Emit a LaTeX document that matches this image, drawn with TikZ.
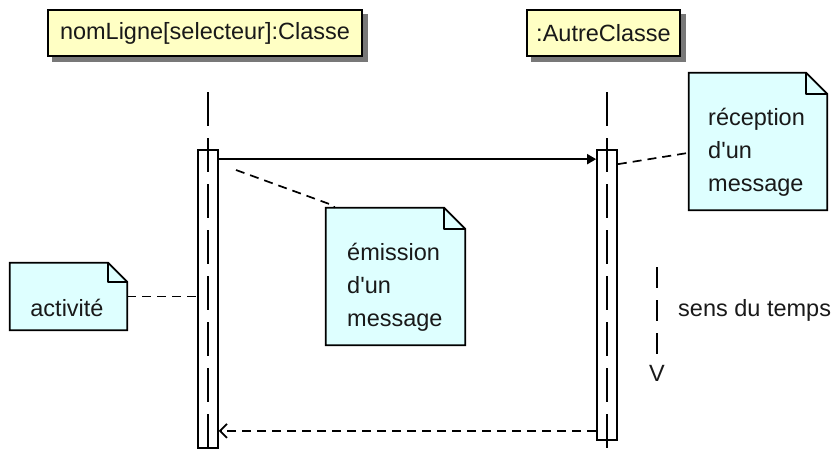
\documentclass[tikz,border=0pt]{standalone}
\usepackage{fontspec}
\newfontfamily\lsans{Liberation Sans}
\usetikzlibrary{arrows.meta,calc}
\pgfdeclarelayer{bg}
\pgfsetlayers{bg,main}
\definecolor{hdr}{RGB}{255,255,196}
\definecolor{notec}{RGB}{222,255,255}
\definecolor{shd}{RGB}{120,120,120}
\tikzset{
 lbl/.style={font=\lsans\fontsize{23.5}{33}\selectfont, inner sep=0pt, text=black!90},
 header/.style={draw, line width=1.8pt, fill=hdr, inner sep=0pt, font=\lsans\fontsize{23.5}{33}\selectfont, text=black!90},
 notebox/.style={inner sep=0pt},
 actbox/.style={draw, line width=1.7pt, inner sep=0pt, minimum width=20pt},
 lifeline/.style={line width=1.7pt, dash pattern=on 34pt off 12pt},
 notelink/.style={line width=1.7pt, dash pattern=on 9pt off 6pt},
 timeline/.style={line width=1.7pt, dash pattern=on 21pt off 12pt},
 msg/.style={line width=1.7pt, -{Triangle[length=9pt,width=10pt]}},
 reply/.style={line width=1.7pt, dash pattern=on 9pt off 6pt, -{Straight Barb[length=7pt,width=14pt]}},
}
\newcommand{\dogear}[2]{%
 \draw[line width=1.8pt, fill=notec] (#1.north west) -- ($(#1.north east)+(-#2,0)$) -- ($(#1.north east)+(0,#2)$) -- (#1.south east) -- (#1.south west) -- cycle;
 \draw[line width=1.8pt, line join=round] ($(#1.north east)+(-#2,0)$) -- ($(#1.north east)+(-#2,#2)$) -- ($(#1.north east)+(0,#2)$);
}
\begin{document}
\begin{tikzpicture}[x=1pt,y=-1pt]
\useasboundingbox (0,0) rectangle (833,453);
% headers
\node[header, minimum width=314pt, minimum height=46pt] (h1) at (205,33) {nomLigne[selecteur]:Classe};
\node[header, minimum width=153pt, minimum height=46pt] (h2) at (603.5,33) {:AutreClasse};
\begin{pgfonlayer}{bg}
 \fill[shd] ($(h1.north west)+(5,5)$) rectangle ($(h1.south east)+(5,5)$);
 \fill[shd] ($(h2.north west)+(5,5)$) rectangle ($(h2.south east)+(5,5)$);
\end{pgfonlayer}
% lifelines
\coordinate (l1t) at (208,92);
\coordinate (l1b) at (208,452);
\coordinate (l2t) at (607,92);
\coordinate (l2b) at (607,452);
\draw[lifeline] (l1t) -- (l1b);
\draw[lifeline] (l2t) -- (l2b);
\node[actbox, minimum height=298pt] (a1) at (208,299) {};
\node[actbox, minimum height=290pt] (a2) at (607,295) {};
% messages
\draw[msg] ($(a1.north east)+(0,10)$) -- ($(a2.north west)+(0,10)$);
\draw[reply] ($(a2.south west)+(0,-10)$) -- ($(a1.south east)+(0,-18)$);
% notes
\node[notebox, minimum width=138pt, minimum height=137pt] (rec) at (758,141.5) {};
\node[notebox, minimum width=139pt, minimum height=137pt] (em) at (395.5,276.5) {};
\node[notebox, minimum width=117pt, minimum height=67pt] (act) at (68.5,296.5) {};
\begin{pgfonlayer}{bg}
 \dogear{rec}{21}
 \dogear{em}{21}
 \dogear{act}{19}
\end{pgfonlayer}
\node[lbl, align=left, anchor=west] (rect) at (708,152) {réception\\d'un\\message};
\node[lbl, align=left, anchor=west] (emt) at (347,287) {émission\\d'un\\message};
\node[lbl] (actt) at (67,308) {activité};
% note links
\draw[notelink] ($(a2.north east)+(0,15)$) -- ($(rec.north west)+(0,80)$);
\coordinate (e0) at (236,170);
\draw[notelink] (e0) -- ($(em.north west)+(3,-4)$) to[out=20,in=100] ($(em.north west)+(9,0)$);
\draw[notelink] (act.east) -- (a1.west |- act.east);
% time direction
\coordinate (t0) at (657,267);
\coordinate (t1) at (657,355);
\draw[timeline] (t0) -- (t1);
\node[lbl] (tv) at (657,373) {V};
\node[lbl, anchor=west] (tt) at (678,310) {sens du temps};
\end{tikzpicture}
\end{document}
